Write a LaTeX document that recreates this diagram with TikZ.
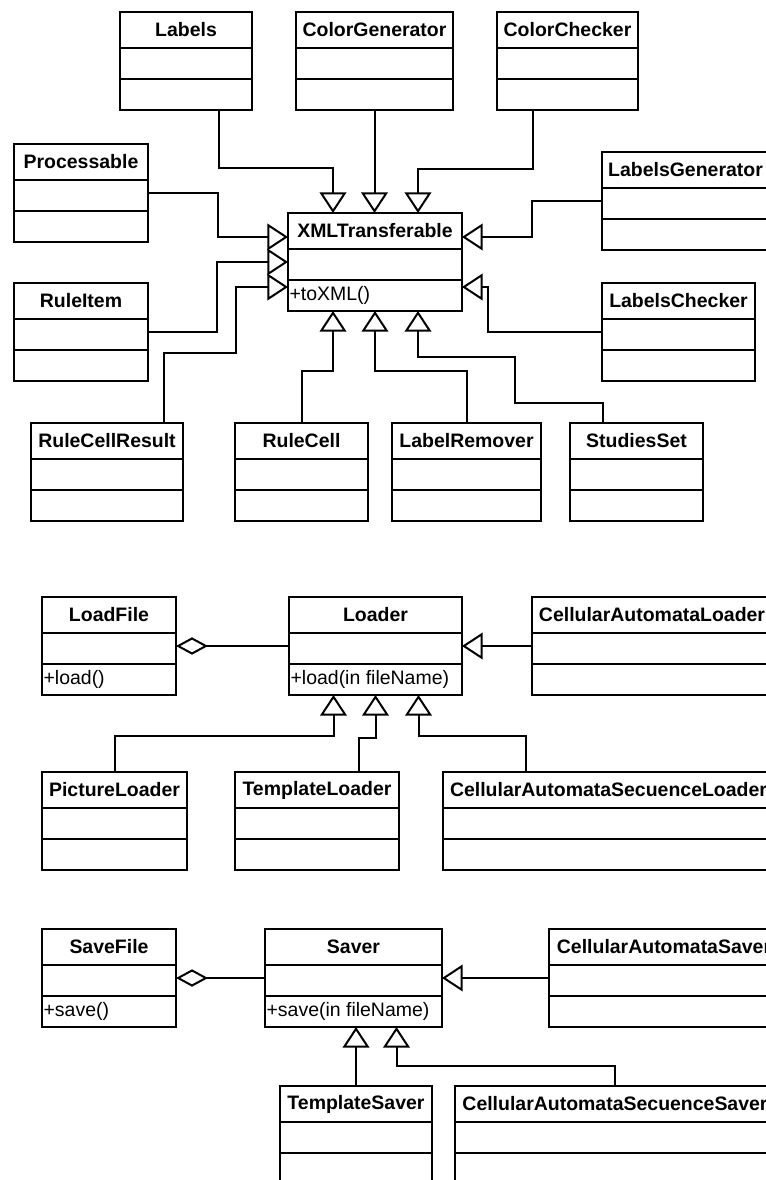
\documentclass[tikz,border=0pt]{standalone}
\usepackage{fontspec}
\setmainfont{Liberation Sans}
\usepackage{tikz}
\usetikzlibrary{calc,arrows.meta}

\tikzset{
  classbox/.style={draw, line width=1.5pt, anchor=north west, inner sep=0pt, outer sep=0pt,
    minimum height=73.5pt},
  classtitle/.style={inner sep=0pt, font=\fontsize{14.6pt}{17pt}\selectfont\bfseries},
  classop/.style={anchor=west, inner sep=1pt, font=\fontsize{14.6pt}{17pt}\selectfont},
  inherit/.style={line width=1.5pt, -{Triangle[open, length=15.5pt, width=20pt]}},
  aggreg/.style={line width=1.5pt, {Diamond[open, length=24pt, width=13pt]}-}
}

% class box: name, x, y, width, title, operation
\newcommand{\umlclass}[6]{%
  \node[classbox, minimum width=#4*0.75pt] (#1) at (#2,#3) {};
  \node[classtitle] (#1-name) at ($(#1.north)+(0,18)$) {#5};
  \draw[line width=1.5pt] ($(#1.north west)+(0,36)$) -- ($(#1.north east)+(0,36)$);
  \draw[line width=1.5pt] ($(#1.north west)+(0,67)$) -- ($(#1.north east)+(0,67)$);
  \node[classop] (#1-op) at ($(#1.north west)+(0,82.5)$) {#6};
}

\begin{document}
\begin{tikzpicture}[x=0.75pt,y=-0.75pt]
  \useasboundingbox (0,0) rectangle (766,1180);
  \clip (0,0) rectangle (766,1180);

  % XMLTransferable and its subclasses
  \umlclass{xml}{288}{213}{174}{XMLTransferable}{+toXML()}
  \umlclass{labels}{120}{12}{132}{Labels}{}
  \umlclass{colorgen}{296}{12}{157}{ColorGenerator}{}
  \umlclass{colorcheck}{497}{12}{141}{ColorChecker}{}
  \umlclass{processable}{14}{144}{134}{Processable}{}
  \umlclass{ruleitem}{14}{283}{134}{RuleItem}{}
  \umlclass{labelsgen}{602}{152}{167}{LabelsGenerator}{}
  \umlclass{labelscheck}{602}{283}{153}{LabelsChecker}{}
  \umlclass{rcresult}{31}{423}{152}{RuleCellResult}{}
  \umlclass{rulecell}{235}{423}{133}{RuleCell}{}
  \umlclass{labelrem}{392}{423}{149}{LabelRemover}{}
  \umlclass{studies}{570}{423}{133}{StudiesSet}{}

  \draw[inherit] ($(labels.south)+(33,0)$) -- ++(0,58) -| ($(xml.north)+(-42,0)$);
  \draw[inherit] (colorgen.south) -- (colorgen.south |- xml.north);
  \draw[inherit] ($(colorcheck.south)+(-35,0)$) -- ++(0,59) -| ($(xml.north)+(43,0)$);
  \draw[inherit] (processable.east) -- ++(70,0) |- ($(xml.west)+(0,-25)$);
  \draw[inherit] (ruleitem.east) -- ++(69,0) |- (xml.west);
  \draw[inherit] ($(rcresult.north)+(57,0)$) -- ++(0,-70) -- ++(72,0) |- ($(xml.west)+(0,25)$);
  \draw[inherit] (labelsgen.west) -- ++(-70,0) |- ($(xml.east)+(0,-25)$);
  \draw[inherit] (labelscheck.west) -- ++(-114,0) |- ($(xml.east)+(0,25)$);
  \draw[inherit] (rulecell.north) -- ++(0,-52) -| ($(xml.south)+(-42,0)$);
  \draw[inherit] (labelrem.north) -- ++(0,-52) -| (xml.south);
  \draw[inherit] ($(studies.north)+(-34,0)$) -- ++(0,-20) -- ++(-88,0) -- ++(0,-46) -| ($(xml.south)+(43,0)$);

  % loaders
  \umlclass{loadfile}{42}{597}{134}{LoadFile}{+load()}
  \umlclass{loader}{289}{597}{173}{Loader}{+load(in fileName)}
  \umlclass{caloader}{532}{597}{240}{CellularAutomataLoader}{}
  \umlclass{picloader}{42}{772}{145}{PictureLoader}{}
  \umlclass{tmploader}{235}{772}{164}{TemplateLoader}{}
  \umlclass{casloader}{443}{772}{331}{CellularAutomataSecuenceLoader}{}

  \draw[aggreg] (loadfile.east) -- (loader.west);
  \draw[inherit] (caloader.west) -- (loader.east);
  \draw[inherit] (picloader.north) -- ++(0,-36) -| ($(loader.south)+(-42,0)$);
  \draw[inherit] ($(tmploader.north)+(42,0)$) -- ++(0,-34) -| (loader.south);
  \draw[inherit] ($(casloader.north)+(-83,0)$) -- ++(0,-36) -| ($(loader.south)+(43,0)$);

  % savers
  \umlclass{savefile}{42}{929}{134}{SaveFile}{+save()}
  \umlclass{saver}{265}{929}{177}{Saver}{+save(in fileName)}
  \umlclass{casaver}{549}{929}{230}{CellularAutomataSaver}{}
  \umlclass{tmpsaver}{280}{1086}{152}{TemplateSaver}{}
  \umlclass{cassaver}{455}{1086}{320}{CellularAutomataSecuenceSaver}{}

  \draw[aggreg] (savefile.east) -- (saver.west);
  \draw[inherit] (casaver.west) -- (saver.east);
  \draw[inherit] (tmpsaver.north) -- (tmpsaver.north |- saver.south);
  \draw[inherit] (cassaver.north) -- ++(0,-20) -| ($(saver.south)+(43,0)$);
\end{tikzpicture}
\end{document}
